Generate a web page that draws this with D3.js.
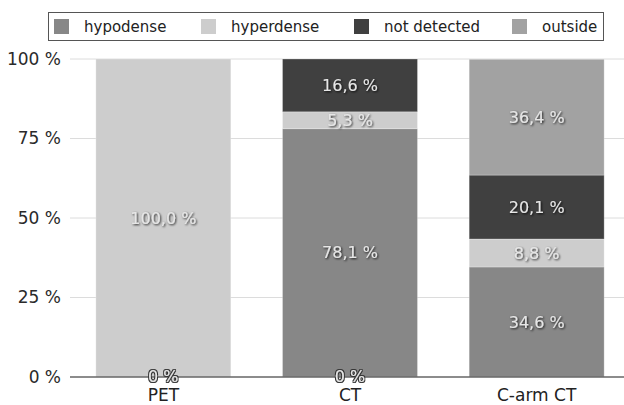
<!DOCTYPE html>
<html><head><meta charset="utf-8">
<script src="https://cdn.jsdelivr.net/npm/d3@7"></script>
<style>body{margin:0;background:#fff}svg{display:block}</style>
</head><body>
<svg id="c" width="624" height="405"></svg>
<script>
const categories = ["PET", "CT", "C-arm CT"];
const seriesNames = ["hypodense", "hyperdense", "not detected", "outside"];
const hypodense   = [0, 78.1, 34.6];
const hyperdense  = [100, 5.3, 8.8];
const notDetected = [0, 16.6, 20.1];
const outside     = [0, 0, 36.4];
const colors = ["#878787", "#cdcdcd", "#404040", "#a2a2a2"];
const yTicks = [0, 25, 50, 75, 100];

const seriesValues = [hypodense, hyperdense, notDetected, outside];
const rows = categories.map((c, i) => {
  const r = {cat: c};
  seriesNames.forEach((s, j) => r[s] = seriesValues[j][i]);
  return r;
});
const stack = d3.stack().keys(seriesNames)(rows);

const svg = d3.select("#c");
const font = "'DejaVu Sans', sans-serif";
const x = d3.scaleBand().domain(categories).range([70, 630]).paddingInner(0.277).paddingOuter(0.1385);
const y = d3.scaleLinear().domain([0, 100]).range([377, 59]);
const color = d3.scaleOrdinal().domain(seriesNames).range(colors);

const defs = svg.append("defs");
const f = defs.append("filter").attr("id", "sh").attr("x", "-20%").attr("y", "-40%").attr("width", "140%").attr("height", "180%");
f.append("feDropShadow").attr("dx", 1).attr("dy", 1).attr("stdDeviation", 0.8).attr("flood-color", "#000").attr("flood-opacity", 0.85);
const f2 = defs.append("filter").attr("id", "sh2").attr("x", "-20%").attr("y", "-40%").attr("width", "140%").attr("height", "180%");
f2.append("feMorphology").attr("in", "SourceAlpha").attr("operator", "dilate").attr("radius", 0.9).attr("result", "d");
f2.append("feGaussianBlur").attr("in", "d").attr("stdDeviation", 0.6).attr("result", "b");
f2.append("feFlood").attr("flood-color", "#333").attr("result", "c");
f2.append("feComposite").attr("in", "c").attr("in2", "b").attr("operator", "in").attr("result", "o");
const m = f2.append("feMerge"); m.append("feMergeNode").attr("in", "o"); m.append("feMergeNode").attr("in", "SourceGraphic");

// gridlines
svg.append("g").selectAll("line").data(yTicks.filter(t => t > 0)).join("line")
  .attr("x1", 70).attr("x2", 624).attr("y1", d => y(d)).attr("y2", d => y(d))
  .attr("stroke", "#dcdcdc").attr("stroke-width", 1);

// y tick labels
const yAxis = d3.axisLeft(y).tickValues(yTicks).tickFormat(d => d + " %").tickSize(0).tickPadding(9);
const ya = svg.append("g").attr("transform", "translate(70,0)").call(yAxis);
ya.select(".domain").remove();
ya.selectAll("text").attr("font-family", font).attr("font-size", 17).attr("fill", "#2a2a2a");

// bars
svg.append("g").selectAll("g").data(stack).join("g")
  .attr("fill", d => color(d.key))
  .selectAll("rect").data(d => d).join("rect")
  .attr("x", d => x(d.data.cat)).attr("width", x.bandwidth())
  .attr("y", d => y(d[1])).attr("height", d => y(d[0]) - y(d[1]))
  .attr("stroke", "rgba(255,255,255,0.25)").attr("stroke-width", 1);

// x axis
const xAxis = d3.axisBottom(x).tickSize(0).tickPadding(12);
const xa = svg.append("g").attr("transform", "translate(0,377)").call(xAxis);
xa.select(".domain").remove();
xa.selectAll("text").attr("font-family", font).attr("font-size", 17).attr("fill", "#222");
svg.append("line").attr("x1", 70).attr("x2", 624).attr("y1", y(0)).attr("y2", y(0))
  .attr("stroke", "#666").attr("stroke-width", 1.5);

// bar value labels (non-zero segments, centred in segment)
const labels = [];
const zeroCats = new Set();
stack.forEach(s => s.forEach(d => {
  const v = d.data[s.key];
  if (v === 0) zeroCats.add(d.data.cat);
  else labels.push({cat: d.data.cat, v, yc: y((d[0] + d[1]) / 2)});
}));
svg.append("g").selectAll("text").data(labels).join("text")
  .attr("x", d => x(d.cat) + x.bandwidth() / 2)
  .attr("y", d => d.yc).attr("dy", "0.35em")
  .attr("text-anchor", "middle").attr("font-family", font).attr("font-size", 16)
  .attr("fill", "#e6e6e6").attr("filter", "url(#sh)")
  .text(d => d3.format(".1f")(d.v).replace(".", ",") + " %");
// zero-valued segments collapse onto the baseline
svg.append("g").selectAll("text").data([...zeroCats]).join("text")
  .attr("x", d => x(d) + x.bandwidth() / 2)
  .attr("y", y(0) - 1).attr("dy", "0.35em")
  .attr("text-anchor", "middle").attr("font-family", font).attr("font-size", 16)
  .attr("fill", "#e6e6e6").attr("filter", "url(#sh2)")
  .text("0 %");

// legend
const lg = svg.append("g");
lg.append("rect").attr("x", 48.5).attr("y", 12.5).attr("width", 555).attr("height", 28)
  .attr("fill", "#fff").attr("stroke", "#555").attr("stroke-width", 1);
const legendX = [54, 201, 354, 512];
seriesNames.forEach((s, i) => {
  lg.append("rect").attr("x", legendX[i]).attr("y", 19).attr("width", 15).attr("height", 15).attr("fill", colors[i]);
  lg.append("text").attr("x", legendX[i] + 30).attr("y", 26.5).attr("dy", "0.35em")
    .attr("font-family", font).attr("font-size", 15).attr("fill", "#222").text(s);
});
</script>
</body></html>
